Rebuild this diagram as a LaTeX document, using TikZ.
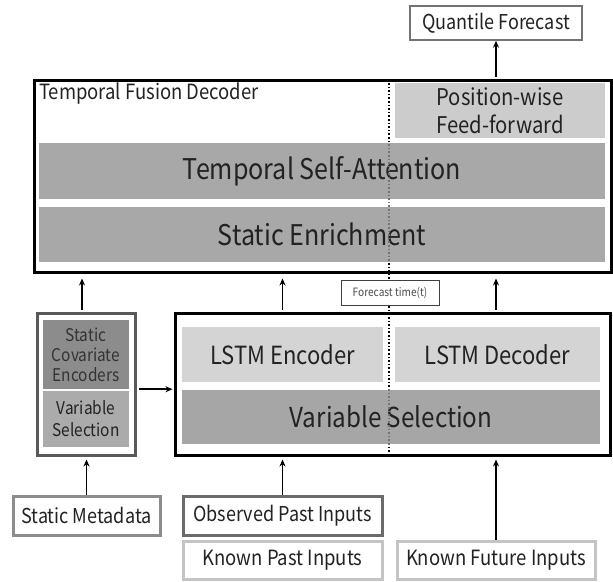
\documentclass[tikz,border=0pt]{standalone}
\usepackage{fontspec}
\setmainfont[FakeStretch=0.88]{Noto Sans CJK KR}
\usetikzlibrary{arrows.meta}
\newcommand\bx[7]{\node[#6, minimum width={#4-#2}, minimum height={#5-#3}, inner sep=0pt, align=center] (#1) at ({(#2+#4)/2},{-(#3+#5)/2}) {#7};}
\newcommand\fs[2]{\fontsize{#1}{#2}\selectfont}
\definecolor{txt}{HTML}{222222}
\tikzset{
  x=1pt, y=1pt,
  every node/.style={text=txt},
  arr/.style={line width=1.8pt, -{Stealth[length=7pt,width=6pt]}},
  dark/.style={fill=black!34},
  light/.style={fill=black!17},
  inbox/.style={draw=#1, line width=3pt, fill=white},
}
\begin{document}
\begin{tikzpicture}
\useasboundingbox (0,0) rectangle (613,-581);
% Temporal fusion decoder
\bx{tfd}{34}{80}{611}{272}{draw=black, line width=3pt}{}
\node[anchor=west, inner sep=0pt, text=txt, font=\fs{21}{22}] (tfdl) at (39,-94) {Temporal Fusion Decoder};
\bx{pwff}{395}{83}{605}{138}{fill=black!20, font=\fs{23}{28}}{Position-wise\\Feed-forward}
\bx{tsa}{39}{143}{605}{199}{dark, font=\fs{28.5}{30}}{Temporal Self-Attention}
\bx{se}{39}{207}{605}{262}{dark, font=\fs{28.5}{30}}{Static Enrichment}
% quantile
\bx{qf}{410}{6}{582}{40}{draw=black!55, line width=1.5pt, font=\fs{20.5}{22}}{Quantile Forecast}
% static encoders
\bx{sco}{37}{313}{135}{455}{draw=black!65, line width=3pt}{}
\bx{sce}{43}{320}{129}{389}{fill=black!45, text=black!80, font=\fs{17.5}{20}}{Static\\Covariate\\Encoders}
\bx{vsl}{43}{391}{129}{447}{fill=black!33, font=\fs{17.5}{22}}{Variable\\Selection}
% encoder block
\bx{enc}{175}{313}{610}{455}{draw=black, line width=3pt}{}
\bx{lenc}{182}{327}{383}{382}{light, font=\fs{25}{26}}{LSTM Encoder}
\bx{ldec}{395}{327}{600}{382}{light, font=\fs{25}{26}}{LSTM Decoder}
\bx{vsr}{182}{390}{600}{444}{fill=black!35, font=\fs{27.5}{28}}{Variable Selection}
% dotted forecast line
\coordinate (dtop) at (389,-83);
\coordinate (dbot) at (389,-456);
\draw[line width=1.6pt, dotted] (dtop) -- (dbot);
\begin{scope}
  \clip (tsa.north west) rectangle (se.south east);
  \draw[line width=1.6pt, dotted, black!55] (dtop) -- (dbot);
\end{scope}
\begin{scope}
  \clip (vsr.north west) rectangle (vsr.south east);
  \draw[line width=1.6pt, dotted, black!55] (dtop) -- (dbot);
\end{scope}
\bx{ft}{341}{280}{439}{305}{draw=black!75, line width=0.8pt, fill=white, text=black!70, font=\fs{11.5}{12}}{Forecast time(\textit{t})}
% inputs
\bx{sm}{13}{496}{160}{535}{inbox=black!45, font=\fs{20.5}{22}}{Static Metadata}
\bx{opi}{183}{496}{382}{535}{inbox=black!58, font=\fs{20.5}{22}}{Observed Past Inputs}
\bx{kpi}{183}{541}{382}{579}{inbox=black!23, font=\fs{21}{22}}{Known Past Inputs}
\bx{kfi}{397}{541}{595}{579}{inbox=black!23, font=\fs{21}{22}}{Known Future Inputs}
% arrows
\draw[arr, shorten <=2pt] (tfd.north -| qf.south) -- (qf.south);
\draw[arr, shorten <=2pt, shorten >=5pt] ([xshift=-4pt]sco.north) -- ([xshift=-4pt]sco.north |- tfd.south);
\draw[arr, shorten <=2pt, shorten >=5pt] (enc.north -| opi.north) -- (tfd.south -| opi.north);
\draw[arr, shorten <=2pt, shorten >=5pt] (enc.north -| kfi.north) -- (tfd.south -| kfi.north);
\draw[arr, shorten <=2pt, shorten >=1pt] (sco.east |- sce.south) -- (enc.west |- sce.south);
\draw[arr, shorten >=3pt] (sm.north) -- (sm.north |- sco.south);
\draw[arr, shorten >=3pt] (opi.north) -- (opi.north |- enc.south);
\draw[arr, shorten >=3pt] (kfi.north) -- (kfi.north |- enc.south);
\end{tikzpicture}
\end{document}
